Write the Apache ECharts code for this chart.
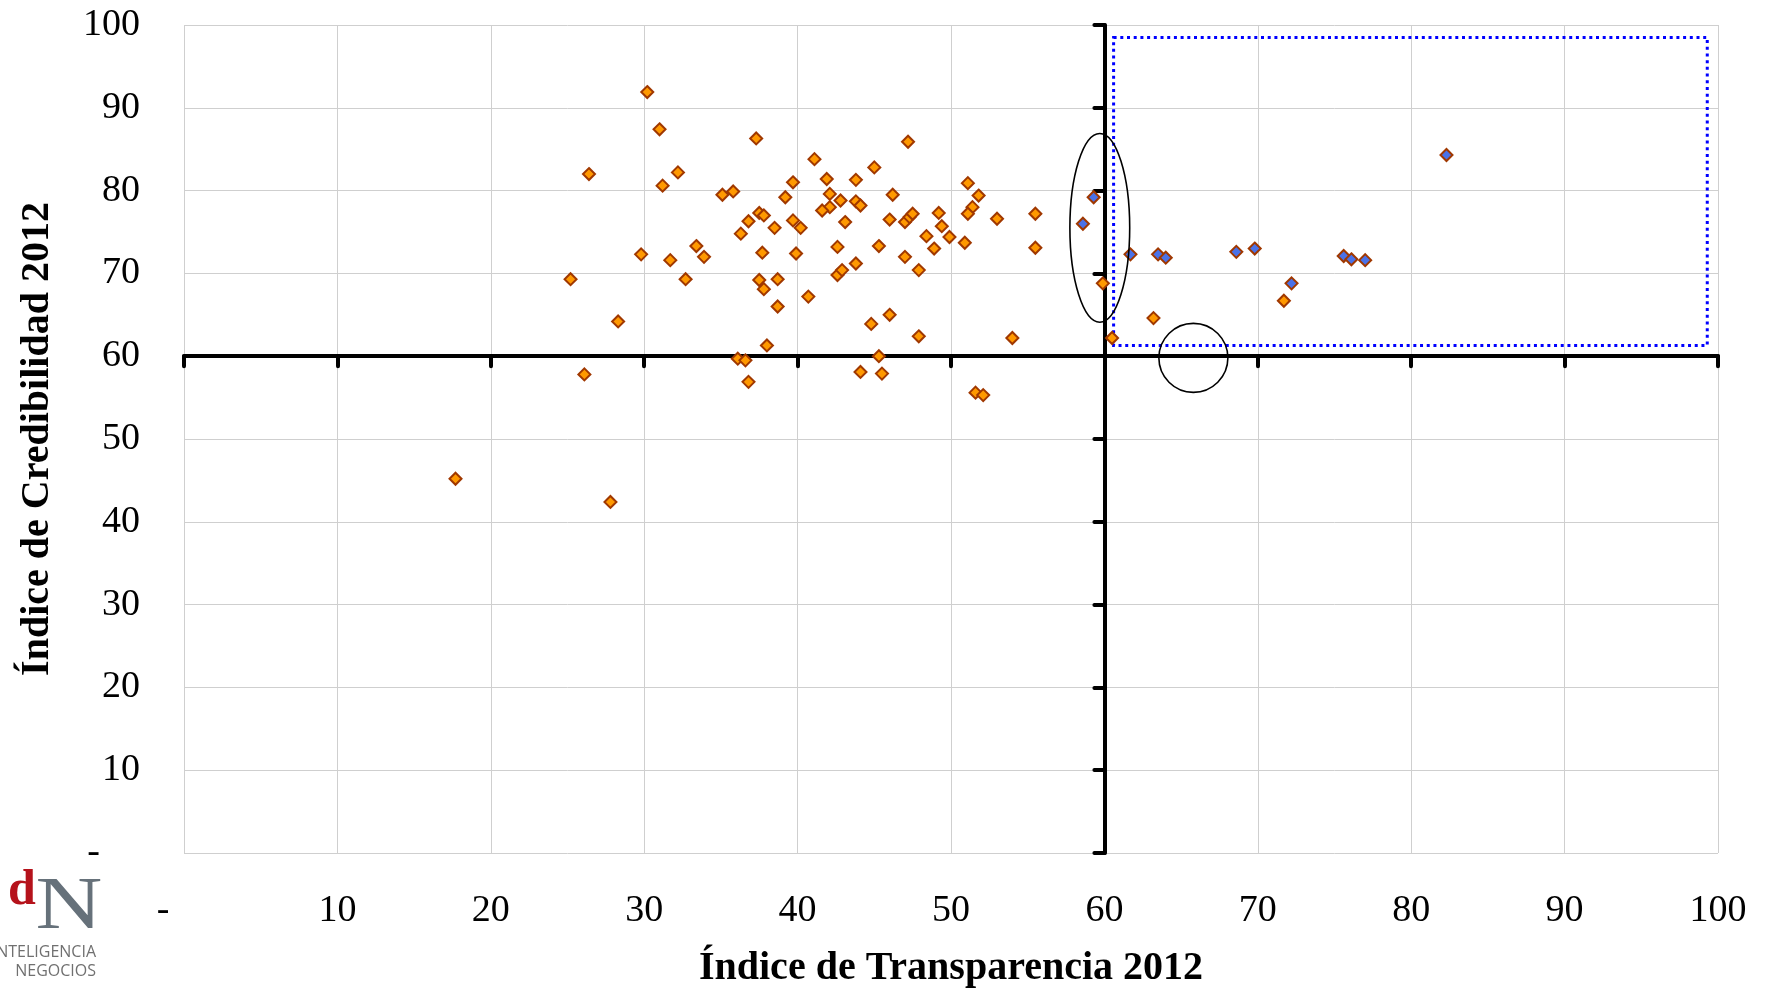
<!DOCTYPE html>
<html>
<head>
<meta charset="utf-8">
<title>Transparencia vs Credibilidad 2012</title>
<script src="https://cdn.jsdelivr.net/npm/echarts@6.0.0/dist/echarts.min.js"></script>
<style>
html, body { margin: 0; padding: 0; background: #fff; }
#chart { width: 1767px; height: 990px; }
</style>
</head>
<body>
<div id="chart"></div>
<script>
// [transparencia, credibilidad]
const puntosNaranja = [
    [30.2, 91.9], [31.0, 87.4], [26.4, 82.0], [37.3, 86.3], [32.2, 82.2], [31.2, 80.6],
    [35.1, 79.5], [35.8, 79.9], [39.7, 81.0], [41.1, 83.8], [39.2, 79.2], [37.5, 77.3],
    [37.8, 77.0], [36.8, 76.3], [36.3, 74.8], [38.5, 75.5], [39.7, 76.4], [40.2, 75.5],
    [41.9, 81.4], [42.1, 79.6], [42.1, 78.0], [41.6, 77.6], [42.8, 78.8], [43.8, 81.3],
    [45.0, 82.8], [43.8, 78.7], [44.1, 78.2], [43.1, 76.2], [47.2, 85.9], [46.2, 79.5],
    [46.0, 76.5], [47.0, 76.2], [47.3, 76.8], [47.5, 77.2], [49.2, 77.3], [48.4, 74.5],
    [48.9, 73.0], [49.4, 75.7], [42.6, 73.2], [45.3, 73.3], [47.0, 72.0], [47.9, 70.4],
    [43.8, 71.2], [42.6, 69.8], [42.9, 70.4], [37.7, 72.5], [39.9, 72.4], [33.4, 73.3],
    [33.9, 72.0], [29.8, 72.3], [31.7, 71.6], [32.7, 69.3], [25.2, 69.3], [37.5, 69.2],
    [37.8, 68.1], [38.7, 69.3], [38.7, 66.0], [40.7, 67.2], [28.3, 64.2], [38.0, 61.3],
    [44.8, 63.9], [46.0, 65.0], [47.9, 62.4], [45.3, 60.0], [26.1, 57.8], [36.1, 59.7],
    [36.6, 59.5], [36.8, 56.9], [44.1, 58.1], [45.5, 57.9], [27.8, 42.4], [17.7, 45.2],
    [51.1, 80.9], [51.8, 79.4], [51.4, 78.0], [51.1, 77.2], [53.0, 76.6], [55.5, 77.2],
    [55.5, 73.1], [50.9, 73.7], [49.9, 74.4], [54.0, 62.2], [51.6, 55.6], [52.1, 55.3],
    [59.9, 68.8], [60.5, 62.2], [63.2, 64.6], [71.7, 66.7]
];
const puntosAzules = [
    [59.3, 79.2], [58.6, 76.0], [61.7, 72.3], [63.5, 72.3], [64.0, 71.9], [68.6, 72.6],
    [69.8, 73.0], [72.2, 68.8], [75.6, 72.1], [76.1, 71.7], [77.0, 71.6], [82.3, 84.3]
];
const ejeMin = 0, ejeMax = 100, ejePaso = 10;
const cruce = [60, 60]; // donde se cruzan los ejes negros
// anotaciones (unidades de los ejes)
const rectangulo = [[60.6, 98.5], [99.3, 61.3]];
const elipse = [59.7, 75.5, 1.95, 11.4];   // cx, cy, rx, ry
const circulo = [65.8, 59.8, 2.25];        // cx, cy, r (en unidades de x)

const G = { left: 184, top: 25, width: 1534, height: 828 };
const serif = '"Liberation Serif", "DejaVu Serif", serif';

const chart = echarts.init(document.getElementById('chart'));

function etiqueta(v) {
    return v === 0 ? '{d|-}' : String(v);
}

const ejeNegro = {
    lineStyle: { color: '#000', width: 4, cap: 'round' }
};

chart.setOption({
    animation: false,
    backgroundColor: '#fff',
    grid: [
        { left: G.left, top: G.top, width: G.width, height: G.height, outerBoundsMode: 'none', containLabel: false },
        // eje horizontal en y = 60
        {
            left: G.left, top: G.top, width: G.width,
            height: G.height * (ejeMax - cruce[1]) / 100, outerBoundsMode: 'none'
        },
        // eje vertical en x = 60
        {
            left: G.left + G.width * cruce[0] / 100, top: G.top,
            width: G.width * (ejeMax - cruce[0]) / 100, height: G.height, outerBoundsMode: 'none'
        }
    ],
    xAxis: [
        {
            type: 'value', min: ejeMin, max: ejeMax, interval: ejePaso,
            name: 'Índice de Transparencia 2012',
            nameLocation: 'middle',
            nameGap: 96,
            nameTextStyle: { fontFamily: serif, fontWeight: 'bold', fontSize: 40, color: '#000' },
            axisLine: { show: false },
            axisTick: { show: false },
            splitLine: { show: true, lineStyle: { color: '#cfcfcf', width: 1 } },
            axisLabel: {
                margin: 39,
                fontFamily: serif, fontSize: 38, color: '#000',
                formatter: etiqueta,
                rich: { d: { fontFamily: serif, fontSize: 38, color: '#000', padding: [0, 42, 0, 0] } }
            }
        },
        {
            gridIndex: 1, type: 'value', min: ejeMin, max: ejeMax, interval: ejePaso,
            axisLine: { show: true, onZero: false, lineStyle: ejeNegro.lineStyle },
            axisTick: { show: true, length: 10, lineStyle: ejeNegro.lineStyle },
            axisLabel: { show: false },
            splitLine: { show: false }
        },
        { gridIndex: 2, type: 'value', min: 0, max: 1, show: false }
    ],
    yAxis: [
        {
            type: 'value', min: ejeMin, max: ejeMax, interval: ejePaso,
            name: 'Índice de Credibilidad 2012',
            nameLocation: 'middle',
            nameGap: 126,
            nameTextStyle: { fontFamily: serif, fontWeight: 'bold', fontSize: 40, color: '#000' },
            axisLine: { show: false },
            axisTick: { show: false },
            splitLine: { show: true, lineStyle: { color: '#cfcfcf', width: 1 } },
            axisLabel: {
                margin: 44,
                fontFamily: serif, fontSize: 38, color: '#000',
                formatter: etiqueta,
                rich: { d: { fontFamily: serif, fontSize: 38, color: '#000', padding: [0, 40, 0, 0] } }
            }
        },
        { gridIndex: 1, type: 'value', min: 0, max: 1, show: false },
        {
            gridIndex: 2, type: 'value', min: ejeMin, max: ejeMax, interval: ejePaso,
            position: 'left',
            axisLine: { show: true, onZero: false, lineStyle: ejeNegro.lineStyle },
            axisTick: { show: true, length: 10, lineStyle: ejeNegro.lineStyle },
            axisLabel: { show: false },
            splitLine: { show: false }
        }
    ],
    series: [
        {
            name: 'Empresas',
            type: 'scatter',
            symbol: 'diamond',
            symbolSize: 12,
            itemStyle: { color: '#FF9900', borderColor: '#A03800', borderWidth: 2, opacity: 1 },
            data: puntosNaranja,
            z: 5
        },
        {
            name: 'Destacadas',
            type: 'scatter',
            symbol: 'diamond',
            symbolSize: 12,
            itemStyle: { color: '#4A72E8', borderColor: '#A03800', borderWidth: 2, opacity: 1 },
            data: puntosAzules,
            z: 6,
            markArea: {
                silent: true,
                label: { show: false },
                itemStyle: {
                    color: 'rgba(0,0,0,0)',
                    borderColor: '#0000FF',
                    borderWidth: 3,
                    borderType: [3, 3.7]
                },
                data: [[
                    { xAxis: rectangulo[0][0], yAxis: rectangulo[0][1] },
                    { xAxis: rectangulo[1][0], yAxis: rectangulo[1][1] }
                ]]
            }
        }
    ]
});

// anotaciones y logo
const toPx = p => chart.convertToPixel({ gridIndex: 0 }, p);
const ec = toPx([elipse[0], elipse[1]]);
const ee = toPx([elipse[0] + elipse[2], elipse[1] + elipse[3]]);
const cc = toPx([circulo[0], circulo[1]]);
const ce = toPx([circulo[0] + circulo[2], circulo[1]]);

chart.setOption({
    graphic: [
        {
            type: 'ellipse', z: 20, silent: true,
            shape: { cx: ec[0], cy: ec[1], rx: ee[0] - ec[0], ry: ec[1] - ee[1] },
            style: { fill: 'none', stroke: '#000', lineWidth: 1.6 }
        },
        {
            type: 'circle', z: 20, silent: true,
            shape: { cx: cc[0], cy: cc[1], r: ce[0] - cc[0] },
            style: { fill: 'none', stroke: '#000', lineWidth: 1.6 }
        },
        {
            type: 'text', z: 20, silent: true, x: 22, y: 891,
            style: {
                text: 'd', fontFamily: serif, fontSize: 50, fontWeight: 'bold',
                fill: '#B5121B', align: 'center', verticalAlign: 'middle'
            }
        },
        {
            type: 'text', z: 20, silent: true, x: 69, y: 909, scaleX: 1.25,
            style: {
                text: 'N', fontFamily: serif, fontSize: 74,
                fill: '#66717A', align: 'center', verticalAlign: 'middle'
            }
        },
        {
            type: 'text', z: 20, silent: true, x: 96, y: 952,
            style: {
                text: 'INTELIGENCIA', fontFamily: '"Open Sans", sans-serif', fontSize: 16,
                fill: '#707070', align: 'right', verticalAlign: 'middle'
            }
        },
        {
            type: 'text', z: 20, silent: true, x: 96, y: 971,
            style: {
                text: 'NEGOCIOS', fontFamily: '"Open Sans", sans-serif', fontSize: 16,
                fill: '#707070', align: 'right', verticalAlign: 'middle'
            }
        }
    ]
});

window.onresize = () => {
    chart.resize();
};
</script>
</body>
</html>
